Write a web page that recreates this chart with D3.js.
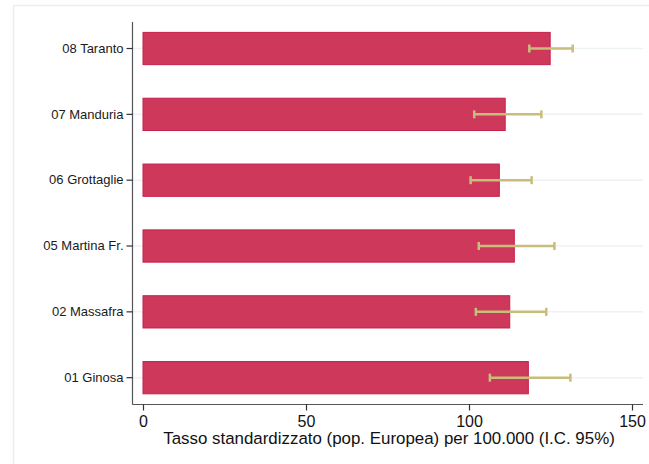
<!DOCTYPE html>
<html>
<head>
<meta charset="utf-8">
<script src="https://cdn.jsdelivr.net/npm/d3@7"></script>
<style>
  html, body { margin: 0; padding: 0; background: #fff; }
  svg { display: block; font-family: "Liberation Sans", Arial, sans-serif; }
</style>
</head>
<body>
<svg id="chart" width="649" height="464"></svg>
<script>
// Standardised rates by district, with 95% confidence intervals
const categories = ["08 Taranto", "07 Manduria", "06 Grottaglie", "05 Martina Fr.", "02 Massafra", "01 Ginosa"];
const rates  = [124.9, 111.1, 109.3, 113.9, 112.5, 118.2];
const ciLow  = [118.5, 101.6, 100.5, 103.0, 102.1, 106.4];
const ciHigh = [131.8, 122.2, 119.2, 126.2, 123.7, 131.1];
const xTicks = [0, 50, 100, 150];
const xTitle = "Tasso standardizzato (pop. Europea) per 100.000 (I.C. 95%)";

const rows = categories.map((c, i) => ({ name: c, rate: rates[i], lo: ciLow[i], hi: ciHigh[i] }));

const svg = d3.select("#chart");

// outer frame
svg.append("rect")
  .attr("x", 13.5).attr("y", 5.5)
  .attr("width", 700).attr("height", 500)
  .attr("fill", "none")
  .attr("stroke", "#e9eef2")
  .attr("stroke-width", 1.5);

const x = d3.scaleLinear().domain([0, 150]).range([143, 632]);
const y = d3.scaleBand()
  .domain(categories)
  .range([15.6, 410.6])
  .paddingInner(0.51)
  .paddingOuter(0.255);

const axisLeft = 132.5, axisRight = 643, axisBottom = 404.5, axisTop = 22;

// horizontal reference lines through each category
svg.append("g").selectAll("line")
  .data(rows).join("line")
  .attr("x1", axisLeft).attr("x2", axisRight)
  .attr("y1", d => y(d.name) + y.bandwidth() / 2)
  .attr("y2", d => y(d.name) + y.bandwidth() / 2)
  .attr("stroke", "#edf2f5")
  .attr("stroke-width", 1.5);

// bars
svg.append("g").selectAll("rect")
  .data(rows).join("rect")
  .attr("x", x(0))
  .attr("y", d => y(d.name))
  .attr("width", d => x(d.rate) - x(0))
  .attr("height", y.bandwidth())
  .attr("fill", "#cd385b")
  .attr("stroke", "#c8204a")
  .attr("stroke-width", 1);

// confidence intervals
const ci = svg.append("g")
  .attr("stroke", "#c8bd7a")
  .attr("stroke-width", 2.5);
rows.forEach(d => {
  const cy = y(d.name) + y.bandwidth() / 2;
  ci.append("line").attr("x1", x(d.lo)).attr("x2", x(d.hi)).attr("y1", cy).attr("y2", cy);
  ci.append("line").attr("x1", x(d.lo)).attr("x2", x(d.lo)).attr("y1", cy - 4).attr("y2", cy + 4);
  ci.append("line").attr("x1", x(d.hi)).attr("x2", x(d.hi)).attr("y1", cy - 4).attr("y2", cy + 4);
});

// axes lines
svg.append("line")
  .attr("x1", axisLeft).attr("x2", axisLeft)
  .attr("y1", axisTop).attr("y2", axisBottom)
  .attr("stroke", "#555").attr("stroke-width", 1.2);
svg.append("line")
  .attr("x1", axisLeft).attr("x2", axisRight)
  .attr("y1", axisBottom).attr("y2", axisBottom)
  .attr("stroke", "#555").attr("stroke-width", 1.2);

// y axis ticks and labels
const yAxis = svg.append("g")
  .attr("transform", `translate(${axisLeft},0)`)
  .call(d3.axisLeft(y).tickSize(6).tickPadding(3));
yAxis.select(".domain").remove();
yAxis.selectAll(".tick line").attr("stroke", "#333").attr("stroke-width", 1.2);
yAxis.selectAll(".tick text")
  .attr("fill", "#1a1a1a")
  .style("font-size", "13px")
  .style("font-family", "'Liberation Sans', Arial, sans-serif");

// x axis ticks and labels
const xAxis = svg.append("g")
  .attr("transform", `translate(0,${axisBottom})`)
  .call(d3.axisBottom(x).tickValues(xTicks).tickSize(6).tickPadding(5).tickFormat(d3.format("d")));
xAxis.select(".domain").remove();
xAxis.selectAll(".tick line").attr("stroke", "#333").attr("stroke-width", 1.2);
xAxis.selectAll(".tick text")
  .attr("fill", "#111")
  .style("font-size", "16px")
  .style("font-family", "'Liberation Sans', Arial, sans-serif");

// x axis title
svg.append("text")
  .attr("x", 389)
  .attr("y", 444)
  .attr("text-anchor", "middle")
  .attr("fill", "#111")
  .style("font-size", "16.9px")
  .text(xTitle);
</script>
</body>
</html>
